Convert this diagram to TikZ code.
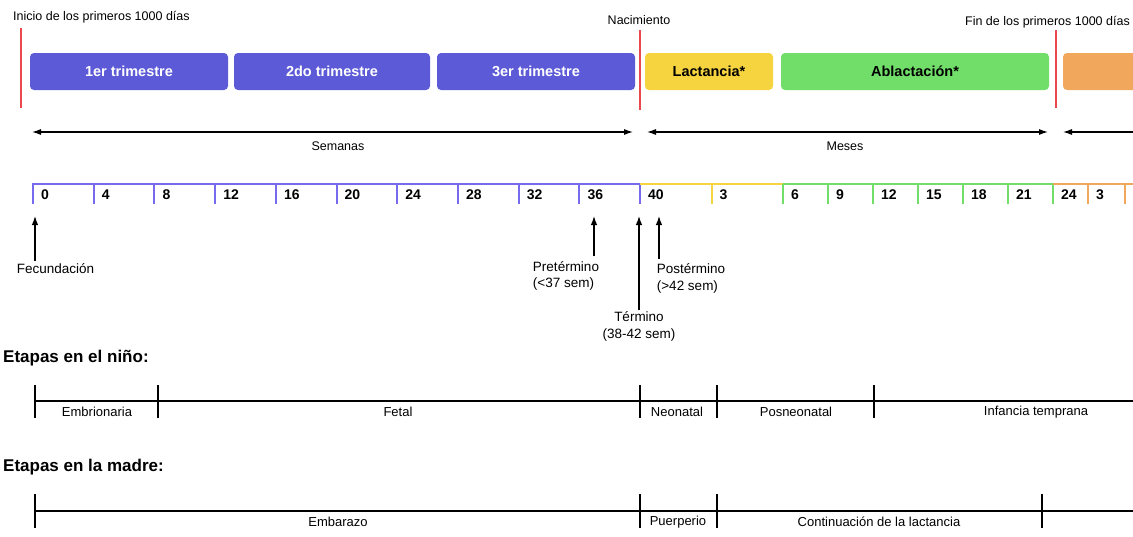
\documentclass[tikz,border=0pt]{standalone}
\usepackage{fontspec}
\setmainfont{Liberation Sans}
\usetikzlibrary{arrows.meta}

\definecolor{trimblue}{RGB}{92,90,214}
\definecolor{scaleblue}{RGB}{120,106,236}
\definecolor{lactyellow}{RGB}{246,212,64}
\definecolor{ablgreen}{RGB}{114,222,106}
\definecolor{orangebox}{RGB}{242,168,92}
\definecolor{marker}{RGB}{232,72,78}

\tikzset{
  phase/.style={rounded corners=4pt, inner sep=0pt, minimum height=37pt,
    font=\fontsize{14.5}{16}\selectfont\bfseries},
  milestone/.style={marker, line width=2pt},
  span/.style={line width=1.1pt, {Latex[length=9pt,width=6pt]}-{Latex[length=9pt,width=6pt]}},
  spanleft/.style={line width=1.1pt, {Latex[length=9pt,width=6pt]}-},
  small/.style={font=\fontsize{12.5}{14}\selectfont, inner sep=0pt},
  tick/.style={line width=2pt},
  ticklabel/.style={font=\fontsize{14}{16}\selectfont\bfseries, inner sep=0pt, anchor=west},
  pointer/.style={line width=1.2pt, -{Latex[length=9pt,width=6.5pt]}},
  note/.style={font=\fontsize{13.5}{16.5}\selectfont, inner sep=0pt, align=left},
  stageline/.style={line width=2pt},
  stagelabel/.style={font=\fontsize{13}{15}\selectfont, inner sep=0pt},
  heading/.style={font=\fontsize{17}{19}\selectfont\bfseries, inner sep=0pt, anchor=west},
}

\begin{document}
\begin{tikzpicture}[x=1pt,y=-1pt]
\useasboundingbox[fill=white] (0,0) rectangle (1133,536);

% ---- milestone captions and red markers
\node[small, anchor=west] (inicio) at (13,17) {Inicio de los primeros 1000 días};
\node[small] (nac) at (639,20) {Nacimiento};
\node[small, anchor=east] (fin) at (1130,22) {Fin de los primeros 1000 días};
\draw[milestone] (21,28) -- (21,108);
\draw[milestone] (640,30) -- (640,110);
\draw[milestone] (1056,30) -- (1056,108);

% ---- phase boxes
\node[phase, fill=trimblue, text=white, minimum width=198pt] (t1) at (129,71.5) {1er trimestre};
\node[phase, fill=trimblue, text=white, minimum width=196pt] (t2) at (332,71.5) {2do trimestre};
\node[phase, fill=trimblue, text=white, minimum width=198pt] (t3) at (536,71.5) {3er trimestre};
\node[phase, fill=lactyellow, minimum width=128pt] (lact) at (709,71.5) {Lactancia*};
\node[phase, fill=ablgreen, minimum width=268pt] (abl) at (915,71.5) {Ablactación*};
\path[fill=orangebox, rounded corners=4pt] (1063,53) rectangle (1140,90);

% ---- time-unit spans
\coordinate (sA) at (32,132);  \coordinate (sB) at (633,132);
\coordinate (mA) at (647,132); \coordinate (mB) at (1048,132);
\coordinate (nA) at (1063,132); \coordinate (nB) at (1133,132);
\draw[span] (sA) -- (sB);
\draw[span] (mA) -- (mB);
\draw[spanleft] (nA) -- (nB);
\node[small] (sem) at (338,146) {Semanas};
\node[small] (mes) at (845,146) {Meses};

% ---- scale: weeks of gestation
\draw[tick, scaleblue] (33,204) -- (33,184) -- (640,184);
\foreach \lab [count=\i from 0] in {0,4,8,12,16,20,24,28,32,36,40} {
  \pgfmathsetmacro{\xx}{33+60.7*\i}
  \draw[tick, scaleblue] (\xx,184) -- (\xx,204);
  \node[ticklabel] (w\i) at (\xx+8,195) {\lab};
}
% months: lactation
\draw[tick, lactyellow] (640,184) -- (783,184);
\draw[tick, lactyellow] (711.5,184) -- (711.5,204);
\node[ticklabel] (m3) at (719.5,195) {3};
% months: complementary feeding
\draw[tick, ablgreen] (783,184) -- (1053,184);
\foreach \lab [count=\i from 0] in {6,9,12,15,18,21} {
  \pgfmathsetmacro{\xx}{783+45*\i}
  \draw[tick, ablgreen] (\xx,184) -- (\xx,204);
  \node[ticklabel] (g\i) at (\xx+8,195) {\lab};
}
\draw[tick, ablgreen] (1053,184) -- (1053,204);
% months: after the first 1000 days
\draw[tick, orangebox] (1053,184) -- (1133,184);
\draw[tick, orangebox] (1088,184) -- (1088,204);
\draw[tick, orangebox] (1125,184) -- (1125,204);
\node[ticklabel] (o24) at (1061,195) {24};
\node[ticklabel] (o3) at (1096,195) {3};

% ---- events on the scale
\coordinate (fecTip) at (35,216);
\coordinate (preTip) at (594,216);
\coordinate (terTip) at (639,216);
\coordinate (posTip) at (659,216);
\node[note] (fec) at (55.5,269) {Fecundación};
\node[note] (pre) at (566,276) {Pretérmino\\(<37 sem)};
\node[note, align=center] (ter) at (639,326.5) {Término\\(38-42 sem)};
\node[note] (pos) at (691,278.5) {Postérmino\\(>42 sem)};
\draw[pointer] ([yshift=3pt]fec.north -| fecTip) -- (fecTip);
\draw[pointer] ([yshift=5pt]pre.north -| preTip) -- (preTip);
\draw[pointer] ([yshift=2pt]ter.north -| terTip) -- (terTip);
\draw[pointer] ([yshift=5pt]pos.north -| posTip) -- (posTip);

% ---- stages of the child
\node[heading] (hnino) at (3,358) {Etapas en el niño:};
\draw[stageline] (35,401) -- (1133,401);
\foreach \xx in {35,158,640,717,874}
  \draw[stageline] (\xx,385) -- (\xx,418);
\node[stagelabel] (embr) at (97,412) {Embrionaria};
\node[stagelabel] (fetal) at (398,412) {Fetal};
\node[stagelabel] (neo) at (677,412) {Neonatal};
\node[stagelabel] (posneo) at (796,412) {Posneonatal};
\node[stagelabel] (infan) at (1036,412) {Infancia temprana};

% ---- stages of the mother
\node[heading] (hmadre) at (3,467) {Etapas en la madre:};
\draw[stageline] (35,511) -- (1133,511);
\foreach \xx in {35,640,717,1042}
  \draw[stageline] (\xx,494) -- (\xx,528);
\node[stagelabel] (emb) at (338,522) {Embarazo};
\node[stagelabel] (puer) at (678,522) {Puerperio};
\node[stagelabel] (cont) at (879,522) {Continuación de la lactancia};
\end{tikzpicture}
\end{document}
